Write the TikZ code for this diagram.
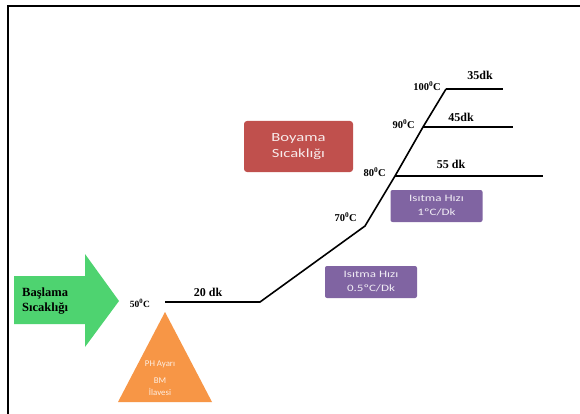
\documentclass[tikz,border=0pt]{standalone}
\usepackage{fontspec}
\setmainfont{Liberation Serif}
\newfontfamily\boxfont{Carlito}
\newfontfamily\wideboxfont[FakeStretch=1.33]{Carlito}
\definecolor{arrowgreen}{RGB}{78,211,112}
\definecolor{triorange}{RGB}{247,150,70}
\definecolor{boxred}{RGB}{192,80,77}
\definecolor{boxpurple}{RGB}{128,100,162}
\tikzset{
  profile/.style={line width=1.6pt, line join=miter},
  templabel/.style={font=\bfseries\fontsize{10.5}{11}\selectfont, inner sep=0pt},
  durlabel/.style={font=\bfseries\fontsize{12}{13}\selectfont, inner sep=0pt},
  redbox/.style={fill=boxred, rounded corners=3pt, text=white!88!boxred, font=\wideboxfont\fontsize{12.5}{15.5}\selectfont, align=center, minimum width=109pt, minimum height=51pt, inner sep=0pt},
  purplebox/.style={fill=boxpurple, rounded corners=2pt, text=white!88!boxpurple, font=\wideboxfont\fontsize{9.8}{14}\selectfont, align=center, minimum width=92pt, minimum height=32pt, inner sep=0pt},
  tritext/.style={text=white!85!triorange, font=\boxfont\fontsize{8.8}{10}\selectfont, inner sep=0pt},
}
\begin{document}
\begin{tikzpicture}[x=1pt,y=-1pt]
\useasboundingbox (0,0) rectangle (580,414);
\fill[white] (0,0) rectangle (580,414);
% frame
\draw[line width=1.6pt] (8,414) -- (8,6) -- (580,6);
% green arrow
\fill[arrowgreen] (14,276) -- (85,276) -- (85,254) -- (119,301) -- (85,347) -- (85,324) -- (14,324) -- cycle;
\node[font=\bfseries\fontsize{12.5}{15.5}\selectfont, align=left, anchor=west, inner sep=0pt] (start) at (22,301) {Başlama\\Sıcaklığı};
% orange triangle
\fill[triorange] (165,312) -- (212,402) -- (118,402) -- cycle;
\node[tritext] (ph) at (160,364) {PH Ayarı};
\node[tritext] (bm) at (160,381) {BM};
\node[tritext] (ilave) at (160,392) {İlavesi};
% profile coordinates
\coordinate (p50) at (165,302);
\coordinate (p50e) at (260,302);
\coordinate (p70) at (365,226);
\coordinate (p80) at (395,176);
\coordinate (p90) at (423,127);
\coordinate (p100) at (446,89);
\coordinate (e80) at (543,176);
\coordinate (e90) at (513,127);
\coordinate (e100) at (503,89);
\draw[profile] (p50) -- (p50e) -- (p70) -- (p80) -- (p90) -- (p100);
\draw[profile] (p80) -- (e80);
\draw[profile] (p90) -- (e90);
\draw[profile] (p100) -- (e100);
% temperature labels
\node[templabel, font=\bfseries\fontsize{9.5}{10}\selectfont] (t50) at (140,303) {50\textsuperscript{0}C};
\node[templabel, anchor=east] (t70) at (357,217) {70\textsuperscript{0}C};
\node[templabel, anchor=east] (t80) at (386,172) {80\textsuperscript{0}C};
\node[templabel, anchor=east] (t90) at (415,124) {90\textsuperscript{0}C};
\node[templabel, anchor=east] (t100) at (441,86) {100\textsuperscript{0}C};
% durations
\node[durlabel] (d20) at (208,292) {20 dk};
\node[durlabel] (d55) at (451,164) {55 dk};
\node[durlabel] (d45) at (461,117) {45dk};
\node[durlabel] (d35) at (480,75) {35dk};
% boxes
\node[redbox] (boyama) at (298.5,146.5) {Boyama\\Sıcaklığı};
\node[purplebox] (hiz1) at (436.5,206) {Isıtma Hızı\\1ºC/Dk};
\node[purplebox] (hiz05) at (371,282) {Isıtma Hızı\\0.5ºC/Dk};
\end{tikzpicture}
\end{document}
